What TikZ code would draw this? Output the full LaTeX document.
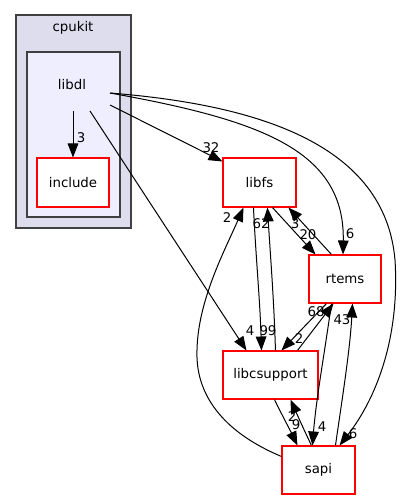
\documentclass[tikz,border=0pt]{standalone}
\usepackage{fontspec}
\setmainfont{DejaVu Sans}
\usetikzlibrary{arrows.meta,calc}
\definecolor{outerfill}{HTML}{DDDDEE}
\definecolor{innerfill}{HTML}{EEEEFF}
\definecolor{clusterline}{HTML}{404040}
\definecolor{boxred}{HTML}{FF0000}
\tikzset{
  dirbox/.style={draw=boxred,fill=white,line width=0.8pt,inner sep=0pt,font=\fontsize{10}{12}\selectfont},
  dep/.style={draw=black,line width=0.75pt,-{Triangle[length=10.5pt,width=8pt]}},
  deplabel/.style={inner sep=0pt,font=\fontsize{10}{12}\selectfont},
  clusterbox/.style={draw=clusterline,line width=1pt},
}
\begin{document}
\begin{tikzpicture}[x=0.75pt,y=-0.75pt]
\useasboundingbox (0,0) rectangle (403,500);
% clusters
\draw[clusterbox,fill=outerfill] (16,15) rectangle (131,228);
\node[deplabel] (cpukit) at (73,28) {cpukit};
\draw[clusterbox,fill=innerfill] (27,52) rectangle (120,217);
\node[deplabel] (libdl) at (72,85) {libdl};
\coordinate (ldA) at (110,93);
\coordinate (ldB) at (110,105);
\coordinate (ldC) at (90,111);
\coordinate (ldD) at (73,111);
% nodes
\node[dirbox,minimum width=54pt,minimum height=36.75pt] (include) at (73,182.5) {include};
\node[dirbox,minimum width=54.75pt,minimum height=36.75pt] (libfs) at (259.5,182.5) {libfs};
\node[dirbox,minimum width=54pt,minimum height=36pt] (rtems) at (345,279) {rtems};
\node[dirbox,minimum width=71.25pt,minimum height=36pt] (libcsupport) at (270.5,375) {libcsupport};
\node[dirbox,minimum width=54.75pt,minimum height=36pt] (sapi) at (318.5,470) {sapi};
% edges from libdl
\draw[dep] (ldD) -- (include.north);
\node[deplabel] (l1) at (81,138) {3};
\draw[dep] (ldB) -- ($(libfs.north west)+(0,4)$);
\node[deplabel] (l2) at (211,148) {32};
\draw[dep] (ldC) -- ($(libcsupport.north west)+(24,0)$);
\node[deplabel] (l3) at (250,331) {4};
\draw[dep] (ldA) .. controls (260,120) and (345,150) .. ($(rtems.north)+(-2,0)$);
\node[deplabel] (l4) at (350,234) {6};
\draw[dep] (ldA) .. controls (260,105) and (385,145) .. (395,260)
  .. controls (400,340) and (375,400) .. ($(sapi.north east)+(-16,0)$);
\node[deplabel] (l5) at (353,434) {6};
% libfs <-> rtems
\draw[dep] ($(libfs.south west)+(50,0)$) -- ($(rtems.north west)+(7,0)$);
\node[deplabel] (l6) at (308,235) {20};
\draw[dep] ($(rtems.north west)+(23,0)$) -- ($(libfs.south west)+(66,0)$);
\node[deplabel] (l7) at (295,224) {3};
% libfs <-> libcsupport
\draw[dep] ($(libfs.south west)+(31,0)$) .. controls (256,260) and (260,300) .. ($(libcsupport.north west)+(39,0)$);
\node[deplabel] (l8) at (268,331) {99};
\draw[dep] ($(libcsupport.north west)+(53,0)$) .. controls (274,300) and (270,250) .. ($(libfs.south west)+(45,0)$);
\node[deplabel] (l9) at (261,224) {62};
% sapi -> libfs
\draw[dep] ($(sapi.north west)+(0,11)$) .. controls (230,435) and (195,400) .. (197,350)
  .. controls (198,300) and (225,250) .. ($(libfs.south west)+(21,0)$);
\node[deplabel] (l10) at (227,218) {2};
% rtems <-> libcsupport
\draw[dep] ($(rtems.south west)+(18,0)$) -- ($(libcsupport.north west)+(59,0)$);
\node[deplabel] (l11) at (299,339) {2};
\draw[dep] ($(libcsupport.north west)+(75,0)$) -- ($(rtems.south west)+(25,0)$);
\node[deplabel] (l12) at (316,312) {68};
% rtems <-> sapi
\draw[dep] ($(rtems.south west)+(23,0)$) .. controls (325,350) and (316,400) .. ($(sapi.north west)+(31,0)$);
\node[deplabel] (l13) at (322,427) {4};
\draw[dep] ($(sapi.north west)+(54,0)$) .. controls (342,400) and (350,350) .. ($(rtems.south west)+(44,0)$);
\node[deplabel] (l14) at (342,320) {43};
% libcsupport <-> sapi
\draw[dep] ($(libcsupport.south west)+(52,0)$) .. controls (282,415) and (290,430) .. ($(sapi.north west)+(16,0)$);
\node[deplabel] (l15) at (296,425) {9};
\draw[dep] ($(sapi.north west)+(30,0)$) .. controls (304,430) and (296,412) .. ($(libcsupport.south west)+(68,0)$);
\node[deplabel] (l16) at (292,417) {2};
\end{tikzpicture}
\end{document}
